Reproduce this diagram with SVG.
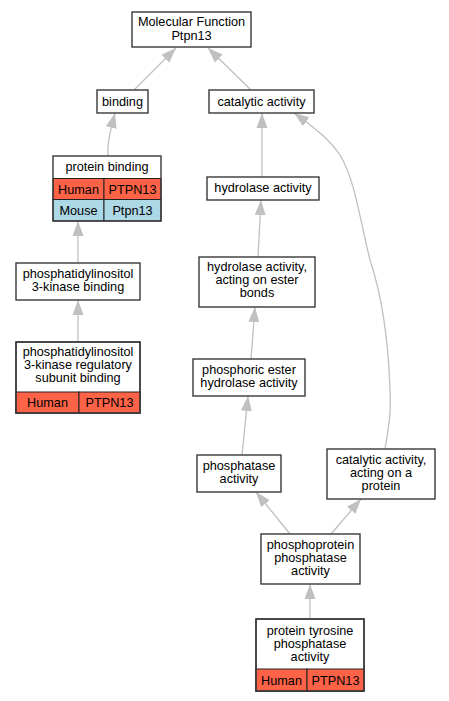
<svg xmlns="http://www.w3.org/2000/svg" width="449" height="701" viewBox="0 0 449 701">
<style>
.box{fill:#fff;stroke:#383838;stroke-width:1.4}
.cell{stroke:#222;stroke-width:1}
.hum{fill:#ff6347}
.mou{fill:#add8e6}
text{font-family:"Liberation Sans",Arial,sans-serif;font-size:12.7px;fill:#000;text-anchor:middle}
.edge{fill:none;stroke:#c0c0c0;stroke-width:1.3}
</style>
<defs>
<marker id="ah" markerUnits="userSpaceOnUse" markerWidth="16" markerHeight="12" refX="15" refY="5.5" orient="auto" viewBox="0 0 16 11">
<path d="M0,0 L15,5.5 L0,11 z" fill="#c0c0c0"/>
</marker>
</defs>
<rect width="449" height="701" fill="#fff"/>
<g id="edges">
<path class="edge" marker-end="url(#ah)" d="M134,90 L176,48"/>
<path class="edge" marker-end="url(#ah)" d="M251,90 L208,48"/>
<path class="edge" marker-end="url(#ah)" d="M108,156 C107,146 109,136 115,113"/>
<path class="edge" marker-end="url(#ah)" d="M78,263 L78,221"/>
<path class="edge" marker-end="url(#ah)" d="M78,342 L78,300"/>
<path class="edge" marker-end="url(#ah)" d="M262,177 L262,113"/>
<path class="edge" marker-end="url(#ah)" d="M258,257 L261,200"/>
<path class="edge" marker-end="url(#ah)" d="M251,359 L255,307"/>
<path class="edge" marker-end="url(#ah)" d="M242,455 L248,396"/>
<path class="edge" marker-end="url(#ah)" d="M385,449 C390,420 391,410 390,390 C388,330 380,290 370,260 C360,220 355,180 340,155 C330,140 315,128 294,113"/>
<path class="edge" marker-end="url(#ah)" d="M290,534 L256,492"/>
<path class="edge" marker-end="url(#ah)" d="M331,534 L361,499"/>
<path class="edge" marker-end="url(#ah)" d="M310,619 L310,584"/>
</g>
<g id="mf">
<rect class="box" x="132" y="12" width="119" height="35"/>
<text x="191.5" y="26">Molecular Function</text>
<text x="191.5" y="39.5">Ptpn13</text>
</g>
<g id="binding">
<rect class="box" x="97" y="90" width="51" height="23"/>
<text x="122.5" y="105.5">binding</text>
</g>
<g id="catalytic">
<rect class="box" x="209" y="90" width="105" height="23"/>
<text x="261.5" y="105.5">catalytic activity</text>
</g>
<g id="protein_binding">
<rect x="53" y="178.5" width="51" height="21" class="hum cell"/>
<rect x="104" y="178.5" width="57" height="21" class="hum cell"/>
<rect x="53" y="199.5" width="51" height="21.5" class="mou cell"/>
<rect x="104" y="199.5" width="57" height="21.5" class="mou cell"/>
<rect x="53" y="156" width="108" height="65" fill="none" stroke="#383838" stroke-width="1.4"/>
<text x="107" y="171">protein binding</text>
<text x="78.5" y="193.5">Human</text>
<text x="132.5" y="193.5">PTPN13</text>
<text x="78.5" y="214.5">Mouse</text>
<text x="132.5" y="214.5">Ptpn13</text>
</g>
<g id="pi3k_binding">
<rect class="box" x="16" y="263" width="124" height="37"/>
<text x="78" y="278">phosphatidylinositol</text>
<text x="78" y="291">3-kinase binding</text>
</g>
<g id="pi3k_reg">
<rect class="box" x="16" y="342" width="124" height="71"/>
<rect x="16" y="392" width="63" height="21" class="hum cell"/>
<rect x="79" y="392" width="61" height="21" class="hum cell"/>
<rect x="16" y="342" width="124" height="71" fill="none" stroke="#383838" stroke-width="1.4"/>
<text x="78" y="356">phosphatidylinositol</text>
<text x="78" y="369">3-kinase regulatory</text>
<text x="78" y="382">subunit binding</text>
<text x="47.5" y="406.5">Human</text>
<text x="109.5" y="406.5">PTPN13</text>
</g>
<g id="hydrolase">
<rect class="box" x="207" y="177" width="112" height="23"/>
<text x="263" y="192">hydrolase activity</text>
</g>
<g id="hydrolase_ester">
<rect class="box" x="199" y="257" width="116" height="50"/>
<text x="257" y="271">hydrolase activity,</text>
<text x="257" y="284">acting on ester</text>
<text x="257" y="297">bonds</text>
</g>
<g id="phosphoric_ester">
<rect class="box" x="193" y="359" width="112" height="37"/>
<text x="249" y="373.5">phosphoric ester</text>
<text x="249" y="386.5">hydrolase activity</text>
</g>
<g id="phosphatase">
<rect class="box" x="197" y="455" width="84" height="37"/>
<text x="239" y="470">phosphatase</text>
<text x="239" y="483">activity</text>
</g>
<g id="cat_protein">
<rect class="box" x="327" y="449" width="108" height="50"/>
<text x="381" y="463.5">catalytic activity,</text>
<text x="381" y="476.5">acting on a</text>
<text x="381" y="489.5">protein</text>
</g>
<g id="phosphoprotein">
<rect class="box" x="261" y="534" width="99" height="50"/>
<text x="310.5" y="549">phosphoprotein</text>
<text x="310.5" y="562">phosphatase</text>
<text x="310.5" y="575">activity</text>
</g>
<g id="ptp">
<rect class="box" x="256" y="619" width="108" height="72"/>
<rect x="256" y="669" width="51" height="22" class="hum cell"/>
<rect x="307" y="669" width="57" height="22" class="hum cell"/>
<rect x="256" y="619" width="108" height="72" fill="none" stroke="#383838" stroke-width="1.4"/>
<text x="310" y="634.5">protein tyrosine</text>
<text x="310" y="647.5">phosphatase</text>
<text x="310" y="661">activity</text>
<text x="281.5" y="684.5">Human</text>
<text x="335.5" y="684.5">PTPN13</text>
</g>
</svg>
